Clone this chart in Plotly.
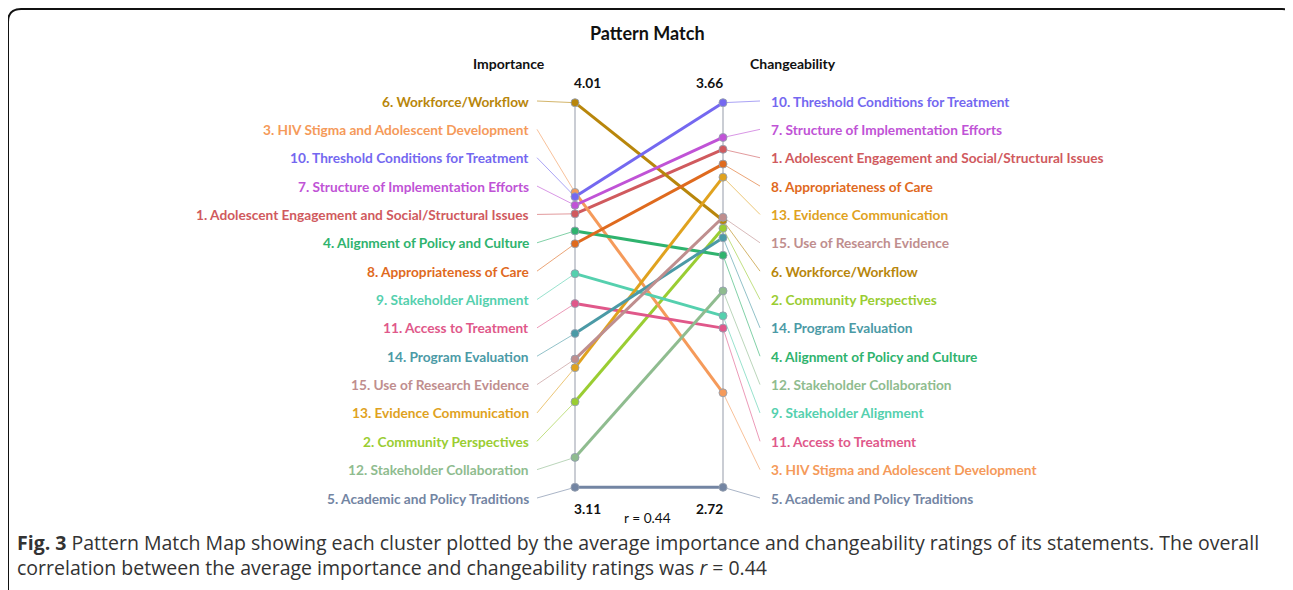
import plotly.graph_objects as go

# ---- data ----
clusters = [
    "1. Adolescent Engagement and Social/Structural Issues",
    "2. Community Perspectives",
    "3. HIV Stigma and Adolescent Development",
    "4. Alignment of Policy and Culture",
    "5. Academic and Policy Traditions",
    "6. Workforce/Workflow",
    "7. Structure of Implementation Efforts",
    "8. Appropriateness of Care",
    "9. Stakeholder Alignment",
    "10. Threshold Conditions for Treatment",
    "11. Access to Treatment",
    "12. Stakeholder Collaboration",
    "13. Evidence Communication",
    "14. Program Evaluation",
    "15. Use of Research Evidence",
]
importance = [3.75, 3.31, 3.80, 3.71, 3.11, 4.01, 3.77, 3.68, 3.61, 3.79, 3.54, 3.18, 3.39, 3.47, 3.41]
changeability = [3.546, 3.353, 2.951, 3.287, 2.72, 3.372, 3.575, 3.51, 3.139, 3.66, 3.109, 3.20, 3.478, 3.33, 3.38]
colors = ["#d05a5e", "#9acd32", "#f59a5a", "#2fb36e", "#7385a3", "#b8860b", "#c053d6",
          "#df6a1e", "#55d0ae", "#7468f0", "#e0588a", "#8fbc8f", "#e0a21e", "#4b9aa6", "#bf8e8e"]
r_value = 0.44

OFF = 8  # page body margin
W, H = 1293 - OFF, 590 - OFF

def fx(p):
    return p - OFF

# pixel layout helpers (axis geometry), in page pixels
xL_px, xR_px = fx(575), fx(723)
top_px, bot_px = fx(102.7), fx(487.3)
sx = xR_px - xL_px
sy = bot_px - top_px
x0 = -xL_px / sx
x1 = x0 + W / sx
y_hi = 1 + top_px / sy
y_lo = -(H - bot_px) / sy

imin, imax = min(importance), max(importance)
cmin, cmax = min(changeability), max(changeability)
nL = [(v - imin) / (imax - imin) for v in importance]
nR = [(v - cmin) / (cmax - cmin) for v in changeability]

def ypx(p):
    return (bot_px - fx(p)) / sy

def xpx(p):
    return (fx(p) - xL_px) / sx

n = len(clusters)
lab_top = ypx(101)
lab_bot = ypx(498)
slots = [lab_top - i * (lab_top - lab_bot) / (n - 1) for i in range(n)]
orderL = sorted(range(n), key=lambda i: -importance[i])
orderR = sorted(range(n), key=lambda i: -changeability[i])
slotL = {idx: slots[k] for k, idx in enumerate(orderL)}
slotR = {idx: slots[k] for k, idx in enumerate(orderR)}

lead_L = xpx(537)
lead_R = xpx(760)
text_L = xpx(531)
text_R = xpx(769)

fig = go.Figure()

# axis lines
for xa in (0, 1):
    fig.add_trace(go.Scatter(x=[xa, xa], y=[0, 1], mode="lines",
                             line=dict(color="#b8bdc6", width=1.5), hoverinfo="skip", showlegend=False))

LABEL_FONT = "Lato"
LS = 13.7
annotations = []
for i in range(n):
    c = colors[i]
    fig.add_trace(go.Scatter(x=[lead_L, 0], y=[slotL[i], nL[i]], mode="lines",
                             line=dict(color=c, width=1), opacity=0.6, hoverinfo="skip", showlegend=False))
    fig.add_trace(go.Scatter(x=[1, lead_R], y=[nR[i], slotR[i]], mode="lines",
                             line=dict(color=c, width=1), opacity=0.6, hoverinfo="skip", showlegend=False))
for i in range(n):
    c = colors[i]
    fig.add_trace(go.Scatter(x=[0, 1], y=[nL[i], nR[i]], mode="lines+markers",
                             line=dict(color=c, width=3),
                             marker=dict(size=8, color=c, line=dict(color="rgba(150,160,175,0.9)", width=1)),
                             name=clusters[i], showlegend=False))
    annotations.append(dict(x=text_L, y=slotL[i], xref="x", yref="y", text="<b>%s</b>" % clusters[i],
                            showarrow=False, xanchor="right", yanchor="middle",
                            font=dict(family=LABEL_FONT, size=LS, color=c)))
    annotations.append(dict(x=text_R, y=slotR[i], xref="x", yref="y", text="<b>%s</b>" % clusters[i],
                            showarrow=False, xanchor="left", yanchor="middle",
                            font=dict(family=LABEL_FONT, size=LS, color=c)))

def px_(x):
    return fx(x) / W

def py_(y):
    return 1 - fx(y) / H

vf = dict(family=LABEL_FONT, size=LS, color="#111")
annotations += [
    dict(x=xpx(587), y=ypx(82), xref="x", yref="y", text="<b>%.2f</b>" % imax, showarrow=False, font=vf),
    dict(x=xpx(709), y=ypx(82), xref="x", yref="y", text="<b>%.2f</b>" % cmax, showarrow=False, font=vf),
    dict(x=xpx(587), y=ypx(508), xref="x", yref="y", text="<b>%.2f</b>" % imin, showarrow=False, font=vf),
    dict(x=xpx(709), y=ypx(508), xref="x", yref="y", text="<b>%.2f</b>" % cmin, showarrow=False, font=vf),
    dict(x=xpx(647), y=ypx(517), xref="x", yref="y", text="r = %.2f" % r_value, showarrow=False,
         font=dict(family=LABEL_FONT, size=LS, color="#111")),
    dict(x=px_(647), y=py_(33), xref="paper", yref="paper", xanchor="center", yanchor="middle",
         text="<b>Pattern Match</b>", showarrow=False,
         font=dict(family=LABEL_FONT, size=18, color="#111")),
    dict(x=px_(509), y=py_(64), xref="paper", yref="paper", xanchor="center", yanchor="middle",
         text="<b>Importance</b>", showarrow=False,
         font=dict(family=LABEL_FONT, size=14, color="#111")),
    dict(x=px_(793), y=py_(64), xref="paper", yref="paper", xanchor="center", yanchor="middle",
         text="<b>Changeability</b>", showarrow=False,
         font=dict(family=LABEL_FONT, size=14, color="#111")),
    dict(x=px_(15), y=py_(542), xref="paper", yref="paper", xanchor="left", yanchor="middle",
         text="<b>Fig. 3</b> Pattern Match Map showing each cluster plotted by the average importance and changeability ratings of its statements. The overall",
         showarrow=False, font=dict(family="Open Sans", size=19.5, color="#333")),
    dict(x=px_(15), y=py_(567), xref="paper", yref="paper", xanchor="left", yanchor="middle",
         text="correlation between the average importance and changeability ratings was <i>r</i> = 0.44",
         showarrow=False, font=dict(family="Open Sans", size=19.5, color="#333")),
]

def P(x, y):
    return "%.5f,%.5f" % (px_(x), py_(y))

border = "M %s L %s Q %s %s L %s Q %s %s" % (
    P(8, 592), P(8, 22), P(8, 9), P(21, 9), P(1282, 9), P(1290, 9), P(1293, 15))

fig.update_layout(
    width=W, height=H, margin=dict(l=0, r=0, t=0, b=0),
    paper_bgcolor="white", plot_bgcolor="white",
    xaxis=dict(range=[x0, x1], visible=False, fixedrange=True),
    yaxis=dict(range=[y_lo, y_hi], visible=False, fixedrange=True),
    annotations=annotations,
    shapes=[dict(type="path", xref="paper", yref="paper", path=border,
                 line=dict(color="#111", width=2))],
    showlegend=False,
)
fig.write_html("out.html")
